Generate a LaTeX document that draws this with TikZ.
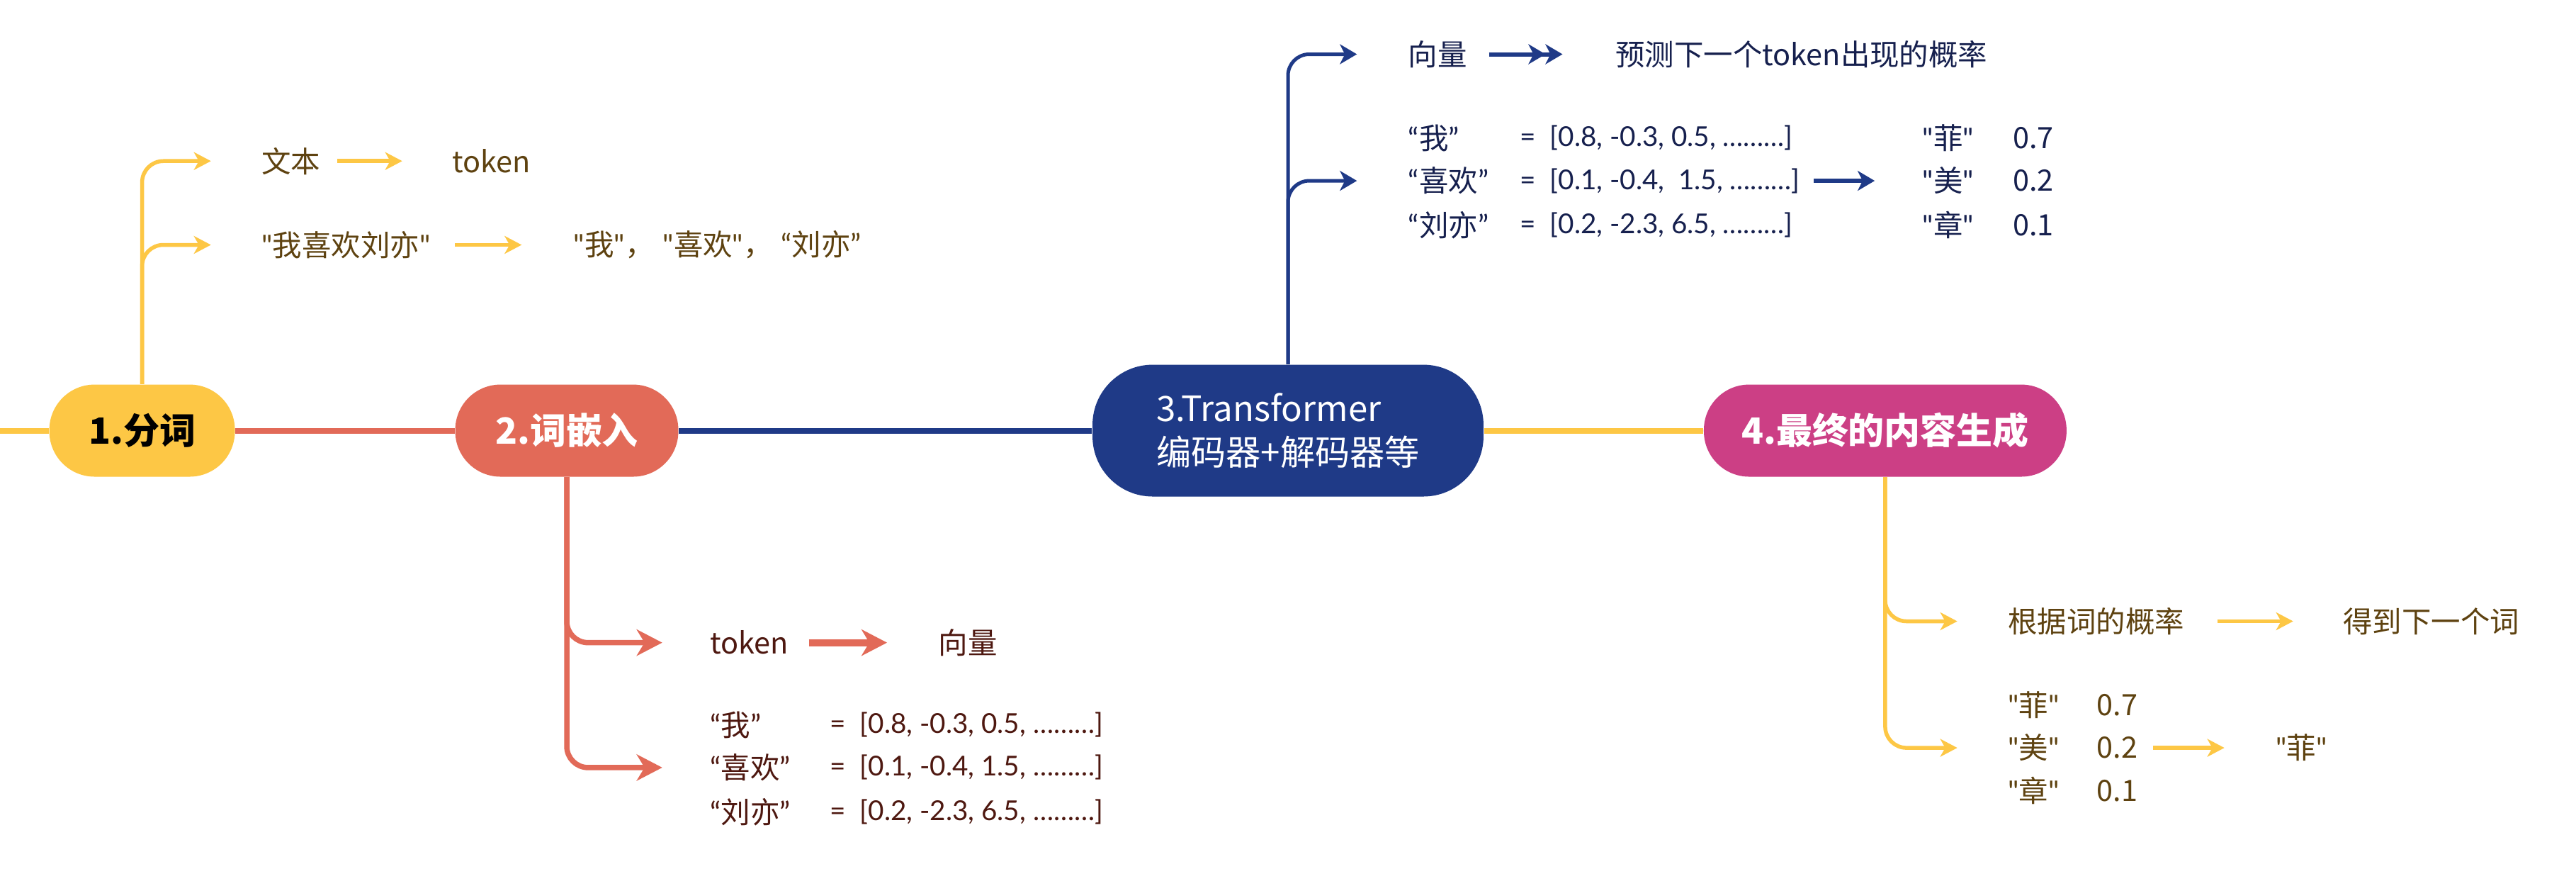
\documentclass[tikz,border=0pt]{standalone}
\usepackage{fontspec}
\setmainfont{Noto Sans CJK SC}[Ligatures=TeXOff]
\newfontfamily\latin{Lato}[Ligatures=TeXOff]
\usetikzlibrary{arrows.meta,positioning}
\definecolor{ylw}{RGB}{253,199,69}
\definecolor{crl}{RGB}{226,106,88}
\definecolor{nvy}{RGB}{31,58,135}
\definecolor{mgt}{RGB}{204,63,133}
\definecolor{ytext}{RGB}{94,66,16}
\definecolor{rtext}{RGB}{78,24,16}
\definecolor{btext}{RGB}{22,32,78}
\newcommand{\straightq}[1]{{\latin"}#1{\latin"}}
\newcommand{\curlyq}[1]{{\latin“}#1{\latin”}}

\begin{document}
\begin{tikzpicture}[
    x=0.02319cm, y=-0.02319cm,
    topic/.style={rectangle, rounded corners=6.4mm, minimum height=13mm, inner sep=0pt, align=left, font=\fontsize{14.5}{17.8}\selectfont\bfseries},
    note/.style={anchor=west, inner sep=0pt, font=\fontsize{11.8}{14}\selectfont},
    vect/.style={note, font=\fontsize{11}{14}\selectfont\latin},
    trunk/.style={line width=0.8mm},
    ybranch/.style={draw=ylw, line width=0.55mm, rounded corners=3mm, -{Stealth[length=2.4mm, width=2.5mm, inset=0.7mm]}, shorten >=7.1mm},
    rbranch/.style={draw=crl, line width=0.75mm, rounded corners=3mm, -{Stealth[length=3.6mm, width=3.7mm, inset=1.1mm]}, shorten >=6.7mm},
    bbranch/.style={draw=nvy, line width=0.5mm, rounded corners=3mm, -{Stealth[length=2.4mm, width=2.8mm, inset=0.7mm]}, shorten >=7.2mm},
    yarrow/.style={draw=ylw, line width=0.55mm, -{Stealth[length=2.4mm, width=2.5mm, inset=0.7mm]}},
    rarrow/.style={draw=crl, line width=1mm, -{Stealth[length=3.6mm, width=3.7mm, inset=1.1mm]}},
    barrow/.style={draw=nvy, line width=0.6mm, -{Stealth[length=2.4mm, width=2.8mm, inset=0.7mm]}}
]
\fill[white] (0,0) rectangle (1568,539);
\useasboundingbox (0,0) rectangle (1568,539);

% main topics
\coordinate (lft) at (0,262);
\node[topic, fill=ylw, text=black, minimum width=26.2mm] (n1) at (86.5,262) {1.分词};
\node[topic, fill=crl, text=white, minimum width=31.5mm] (n2) at (345,262) {2.词嵌入};
\node[topic, fill=nvy, text=white, minimum width=55.2mm, minimum height=18.6mm, rounded corners=8.5mm, font=\fontsize{14}{17.8}\selectfont] (n3) at (784,262) {3.Transformer\\编码器+解码器等};
\node[topic, fill=mgt, text=white, minimum width=51.2mm] (n4) at (1147.5,262) {4.最终的内容生成};

\draw[trunk, ylw] (lft) -- (n1.west);
\draw[trunk, crl] (n1.east) -- (n2.west);
\draw[trunk, nvy] (n2.east) -- (n3.west);
\draw[trunk, ylw] (n3.east) -- (n4.west);

% 1 tokenize
\node[note, text=ytext] (wb) at (159,98) {文本};
\node[note, text=ytext] (tk) at (275,98) {token};
\node[note, text=ytext] (sent) at (159,149) {\straightq{我喜欢刘亦}};
\node[note, text=ytext] (toks) at (349,149) {\straightq{我}，\hspace{1.2mm}\straightq{喜欢}，\hspace{1.2mm}\curlyq{刘亦}};
\draw[ybranch] (n1.north) |- (wb.west);
\draw[ybranch] (n1.north) |- (sent.west);
\draw[yarrow, shorten <=2.3mm, shorten >=7mm] (wb.east) -- (tk.west);
\draw[yarrow, shorten <=3.4mm, shorten >=7.3mm] (sent.east) -- (toks.west);

% 2 embedding
\node[note, text=rtext] (tk2) at (432,391) {token};
\node[note, text=rtext] (vec2) at (571,391) {向量};
\node[note, text=rtext] (r2a) at (432,441) {\curlyq{我}};
\node[note, text=rtext] (r2b) at (432,467) {\curlyq{喜欢}};
\node[note, text=rtext] (r2c) at (432,494) {\curlyq{刘亦}};
\node[vect, text=rtext] (v2a) at (505,441) {=\ \ [0.8, -0.3, 0.5, ………]};
\node[vect, text=rtext] (v2b) at (505,467) {=\ \ [0.1, -0.4, 1.5, ………]};
\node[vect, text=rtext] (v2c) at (505,494) {=\ \ [0.2, -2.3, 6.5, ………]};
\draw[rbranch] (n2.south) |- (tk2.west);
\draw[rbranch] (n2.south) |- (r2b.west);
\draw[rarrow, shorten <=2.8mm, shorten >=7.2mm] (tk2.east) -- (vec2.west);

% 3 transformer
\node[note, text=btext] (vec3) at (857,33) {向量};
\node[note, text=btext] (pred) at (983,33) {预测下一个token出现的概率};
\node[note, text=btext] (r3a) at (857,84) {\curlyq{我}};
\node[note, text=btext] (r3b) at (857,110) {\curlyq{喜欢}};
\node[note, text=btext] (r3c) at (857,137) {\curlyq{刘亦}};
\node[vect, text=btext] (v3a) at (925,84) {=\ \ [0.8, -0.3, 0.5, ………]};
\node[vect, text=btext] (v3b) at (925,110) {=\ \ [0.1, -0.4,\ \ 1.5, ………]};
\node[vect, text=btext] (v3c) at (925,137) {=\ \ [0.2, -2.3, 6.5, ………]};
\node[note, text=btext] (p3a) at (1170,84) {\straightq{菲}};
\node[note, text=btext] (p3b) at (1170,110) {\straightq{美}};
\node[note, text=btext] (p3c) at (1170,137) {\straightq{章}};
\node[note, text=btext] (q3a) at (1225,84) {0.7};
\node[note, text=btext] (q3b) at (1225,110) {0.2};
\node[note, text=btext] (q3c) at (1225,137) {0.1};
\draw[bbranch] (n3.north) |- (vec3.west);
\draw[bbranch] (n3.north) |- (r3b.west);
\draw[barrow, -{Stealth[length=2.4mm, width=2.8mm, inset=0.7mm]Stealth[length=2.4mm, width=2.8mm, inset=0.7mm]}, shorten <=3mm, shorten >=7.4mm] (vec3.east) -- (pred.west);
\draw[barrow, shorten <=1.9mm, shorten >=6.7mm] (v3b.east) -- (p3b.west);

% 4 output
\node[note, text=ytext] (prob) at (1222,378) {根据词的概率};
\node[note, text=ytext] (next) at (1426,378) {得到下一个词};
\node[note, text=ytext] (p4a) at (1222,429) {\straightq{菲}};
\node[note, text=ytext] (p4b) at (1222,455) {\straightq{美}};
\node[note, text=ytext] (p4c) at (1222,481) {\straightq{章}};
\node[note, text=ytext] (q4a) at (1276,429) {0.7};
\node[note, text=ytext] (q4b) at (1276,455) {0.2};
\node[note, text=ytext] (q4c) at (1276,481) {0.1};
\node[note, text=ytext] (res) at (1385,455) {\straightq{菲}};
\draw[ybranch] (n4.south) |- (prob.west);
\draw[ybranch] (n4.south) |- (p4b.west);
\draw[yarrow, shorten <=4.6mm, shorten >=7mm] (prob.east) -- (next.west);
\draw[yarrow, shorten <=2.1mm, shorten >=7.2mm] (q4b.east) -- (res.west);

\end{tikzpicture}
\end{document}
